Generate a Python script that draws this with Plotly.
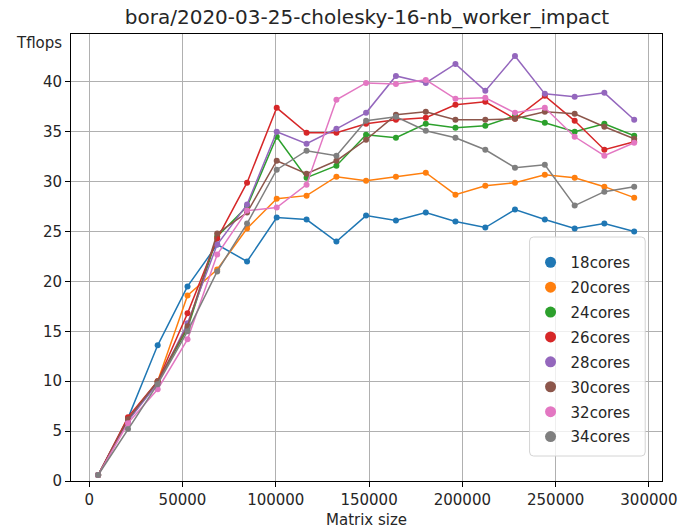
import plotly.graph_objects as go

matrix_size = [4800, 20800, 36700, 52700, 68600, 84600, 100500, 116500, 132500, 148400,
               164400, 180400, 196300, 212300, 228200, 244200, 260200, 276100, 292100]

labels = ["18cores", "20cores", "24cores", "26cores", "28cores", "30cores", "32cores", "34cores"]
colors = ["#1f77b4", "#ff7f0e", "#2ca02c", "#d62728", "#9467bd", "#8c564b", "#e377c2", "#7f7f7f"]

tf_18 = [0.6, 6.3, 13.6, 19.5, 23.7, 22.0, 26.4, 26.2, 24.0, 26.6, 26.1, 26.9, 26.0, 25.4, 27.2, 26.2, 25.3, 25.8, 25.0]
tf_20 = [0.6, 6.1, 10.0, 18.6, 21.2, 25.3, 28.3, 28.6, 30.5, 30.1, 30.5, 30.9, 28.7, 29.6, 29.9, 30.7, 30.4, 29.5, 28.4]
tf_24 = [0.6, 6.1, 9.9, 15.3, 24.5, 27.5, 34.5, 30.4, 31.6, 34.7, 34.4, 35.8, 35.4, 35.6, 36.6, 35.9, 35.0, 35.8, 34.6]
tf_26 = [0.6, 6.4, 10.0, 16.8, 24.3, 29.9, 37.4, 34.9, 34.9, 35.8, 36.2, 36.4, 37.7, 38.0, 36.3, 38.6, 36.1, 33.2, 34.0]
tf_28 = [0.6, 6.0, 9.8, 15.8, 23.7, 27.7, 35.0, 33.8, 35.3, 36.9, 40.6, 39.9, 41.8, 39.1, 42.6, 38.8, 38.5, 38.9, 36.2]
tf_30 = [0.6, 6.2, 10.0, 15.5, 24.8, 26.9, 32.1, 30.8, 32.1, 34.2, 36.7, 37.0, 36.2, 36.2, 36.3, 37.0, 36.8, 35.5, 34.3]
tf_32 = [0.6, 5.8, 9.2, 14.2, 22.7, 27.1, 27.4, 29.7, 38.2, 39.9, 39.8, 40.2, 38.3, 38.4, 36.9, 37.4, 34.5, 32.6, 33.9]
tf_34 = [0.6, 5.2, 9.7, 15.0, 21.0, 25.8, 31.2, 33.1, 32.6, 36.1, 36.5, 35.1, 34.4, 33.2, 31.4, 31.7, 27.6, 29.0, 29.5]

series = [tf_18, tf_20, tf_24, tf_26, tf_28, tf_30, tf_32, tf_34]

font_family = "DejaVu Sans"
text_color = "#262626"

FIG_W, FIG_H = 689, 531
M_L, M_R, M_T, M_B = 71, 20, 34, 50
PLOT_W = FIG_W - M_L - M_R
PLOT_H = FIG_H - M_T - M_B

fig = go.Figure()

for name, col, ys in zip(labels, colors, series):
    fig.add_trace(go.Scatter(
        x=matrix_size, y=ys, mode="lines+markers", name=name,
        line=dict(color=col, width=1.5),
        marker=dict(color=col, size=6),
        showlegend=False,
    ))

for name, col in zip(labels, colors):
    fig.add_trace(go.Scatter(
        x=[None], y=[None], mode="markers", name=name, legendgroup=name,
        marker=dict(color=col, size=11),
        showlegend=True,
    ))

axis_common = dict(
    showgrid=True, gridcolor="#b0b0b0", gridwidth=1,
    showline=True, linecolor="black", linewidth=1, mirror=True,
    ticks="outside", ticklen=5, tickcolor="black", tickwidth=1,
    tickfont=dict(family=font_family, size=15, color=text_color),
    zeroline=False,
)

# Legend frame (rounded box) drawn as a shape; pixel offsets relative to the plot area
box_l, box_r, box_t, box_b = 535 - M_L, 652 - M_L, 237 - M_T, 456 - M_T
r = 4.0
def px(xp):
    return xp / PLOT_W
def py(yp):
    return 1 - yp / PLOT_H
path = (f"M {px(box_l + r)},{py(box_t)} L {px(box_r - r)},{py(box_t)} "
        f"Q {px(box_r)},{py(box_t)} {px(box_r)},{py(box_t + r)} "
        f"L {px(box_r)},{py(box_b - r)} Q {px(box_r)},{py(box_b)} {px(box_r - r)},{py(box_b)} "
        f"L {px(box_l + r)},{py(box_b)} Q {px(box_l)},{py(box_b)} {px(box_l)},{py(box_b - r)} "
        f"L {px(box_l)},{py(box_t + r)} Q {px(box_l)},{py(box_t)} {px(box_l + r)},{py(box_t)} Z")

fig.add_shape(type="path", path=path, xref="paper", yref="paper",
              fillcolor="rgba(255,255,255,0.8)", line=dict(color="#d4d4d4", width=1),
              layer="above")

fig.update_layout(
    width=FIG_W, height=FIG_H,
    paper_bgcolor="white", plot_bgcolor="white",
    margin=dict(l=M_L, r=M_R, t=M_T, b=M_B),
    font=dict(family=font_family, color=text_color),
    title=dict(text="bora/2020-03-25-cholesky-16-nb_worker_impact",
               x=367 / FIG_W, xanchor="center", y=1 - 17 / FIG_H, yanchor="middle",
               font=dict(family=font_family, size=20, color=text_color)),
    xaxis=dict(range=[-9750, 307000], tickvals=[0, 50000, 100000, 150000, 200000, 250000, 300000],
               ticktext=["0", "50000", "100000", "150000", "200000", "250000", "300000"], **axis_common),
    yaxis=dict(range=[0, 44.8], tickvals=[0, 5, 10, 15, 20, 25, 30, 35, 40], **axis_common),
    legend=dict(x=(536 - M_L) / PLOT_W, xanchor="left", y=py(246 - M_T), yanchor="top",
                bgcolor="rgba(0,0,0,0)", borderwidth=0,
                font=dict(family=font_family, size=15, color=text_color),
                itemsizing="trace", tracegroupgap=2.4),
    showlegend=True,
)

fig.add_annotation(text="Tflops", xref="paper", yref="paper", x=0, y=1,
                   xanchor="right", yanchor="middle", xshift=-7, yshift=-8.5, showarrow=False,
                   font=dict(family=font_family, size=15, color=text_color))
fig.add_annotation(text="Matrix size", xref="paper", yref="paper", x=0.5, y=0,
                   xanchor="center", yanchor="middle", yshift=-39, showarrow=False,
                   font=dict(family=font_family, size=15, color=text_color))

# Remove the default page margin so the figure fills the window exactly; hide the modebar.
fig.write_html("out.html", config={"displayModeBar": False},
               post_script="document.body.style.margin='0';")
